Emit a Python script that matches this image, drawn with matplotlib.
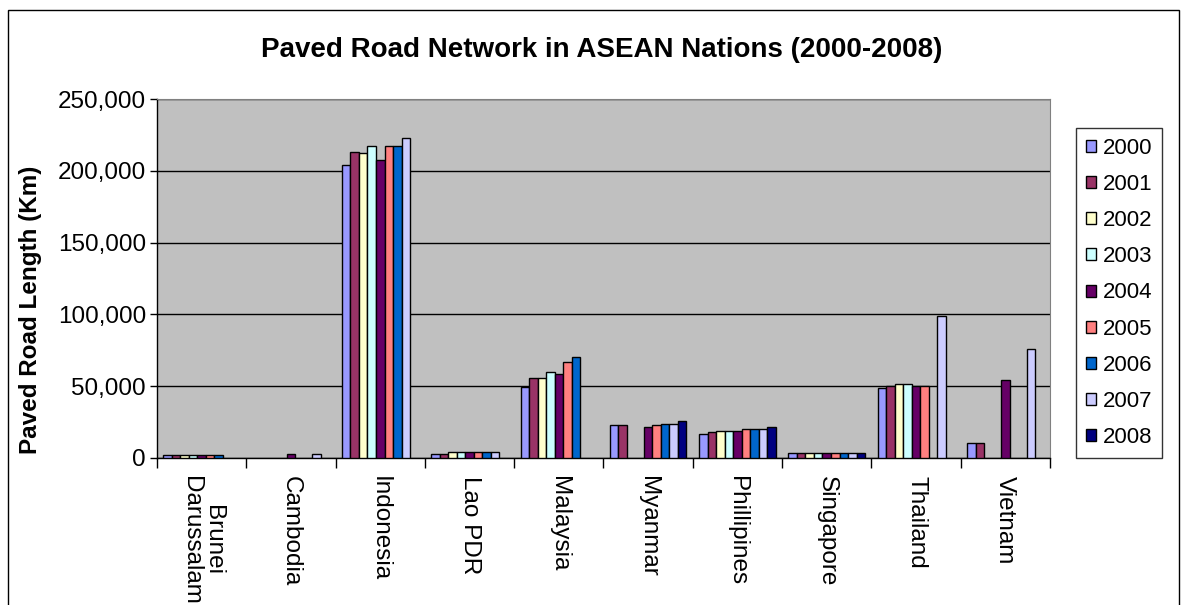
import numpy as np
import matplotlib
matplotlib.use("Agg")
import matplotlib.pyplot as plt
from matplotlib.patches import Rectangle
from matplotlib.ticker import FuncFormatter

plt.rcParams['font.family'] = ['Liberation Sans', 'DejaVu Sans']

countries = ["Brunei\nDarussalam", "Cambodia", "Indonesia", "Lao PDR", "Malaysia",
             "Myanmar", "Phillipines", "Singapore", "Thailand", "Vietnam"]
years = ["2000", "2001", "2002", "2003", "2004", "2005", "2006", "2007", "2008"]

# paved road length (km) per year, one value per country, None = no data
y2000 = [2400, None, 204000, 3000, 49500, 22800, 17000, 3300, 49000, 10700]
y2001 = [2400, None, 213200, 3000, 56000, 22800, 18100, 3300, 50000, 10700]
y2002 = [2400, None, 212300, 4300, 55800, None, 19100, 3300, 51600, None]
y2003 = [2400, None, 217200, 4300, 59700, None, 19100, 3300, 51600, None]
y2004 = [2400, 2500, 207400, 4300, 58500, 21600, 19100, 3300, 50000, 54000]
y2005 = [2400, None, 217200, 4300, 66900, 23000, 20000, 3300, 50000, None]
y2006 = [2400, None, 217200, 4300, 70600, 24000, 20000, 3300, None, None]
y2007 = [None, 2500, 222800, 4300, None, 24000, 20000, 3300, 98600, 75800]
y2008 = [None, None, None, None, None, 25600, 21600, 3300, None, None]
series = [y2000, y2001, y2002, y2003, y2004, y2005, y2006, y2007, y2008]

colors = ["#9999FF", "#993366", "#FFFFCC", "#CCFFFF", "#660066",
          "#FF8080", "#0066CC", "#CCCCFF", "#000080"]

fig = plt.figure(figsize=(11.82, 6.05), dpi=100)
ax = fig.add_axes([157/1182, 1 - 458/605, (1050-157)/1182, (458-99)/605])
ax.set_facecolor("#C0C0C0")

w = 1 / 10.5
x = np.arange(len(countries))
for i, vals in enumerate(series):
    xs = [x[k] + (i - 4) * w for k in range(len(vals)) if vals[k] is not None]
    hs = [v for v in vals if v is not None]
    ax.bar(xs, hs, width=w, color=colors[i], edgecolor="black", linewidth=1,
           label=years[i], zorder=3)

ax.set_xlim(-0.5, len(countries) - 0.5)
ax.set_ylim(0, 250000)
ax.set_yticks(np.arange(0, 250001, 50000))
ax.yaxis.set_major_formatter(FuncFormatter(lambda v, p: f"{int(v):,}"))
ax.yaxis.grid(True, color="black", linewidth=1, zorder=1)
ax.set_axisbelow(True)

ax.set_xticks(x)
ax.set_xticklabels(countries, rotation=270, ha="center", va="top",
                   multialignment="center", fontsize=17.5, linespacing=1.0)
ax.set_xticks(np.arange(-0.5, len(countries)), minor=True)
ax.tick_params(axis="x", which="major", length=0, pad=13)
ax.tick_params(axis="x", which="minor", length=7, width=1, color="black")
ax.tick_params(axis="y", length=5, width=1, color="black", labelsize=17.5, pad=3)

for s in ["top", "right"]:
    ax.spines[s].set_color("#808080")
for s in ["left", "bottom"]:
    ax.spines[s].set_color("black")
    ax.spines[s].set_linewidth(1)

fig.text(602/1182, 1 - 50/605, "Paved Road Network in ASEAN Nations (2000-2008)",
         ha="center", va="center", fontsize=20, fontweight="bold")
fig.text(31/1182, 1 - 310/605, "Paved Road Length (Km)", rotation=90,
         ha="center", va="center", fontsize=17.5, fontweight="bold")

leg = fig.legend(loc="upper left", bbox_to_anchor=(1076/1182, 1 - 128/605),
                 fontsize=16, frameon=True, fancybox=False, edgecolor="black",
                 handlelength=0.45, handleheight=0.45, handletextpad=0.3,
                 labelspacing=0.68, borderpad=0.45, borderaxespad=0)
leg.get_frame().set_linewidth(1)

fig.add_artist(Rectangle((8/1182, -0.05), (1179-8)/1182, 1.05 - 10/605,
                         transform=fig.transFigure, fill=False,
                         edgecolor="black", linewidth=1))

fig.savefig("out.png", dpi=100)
